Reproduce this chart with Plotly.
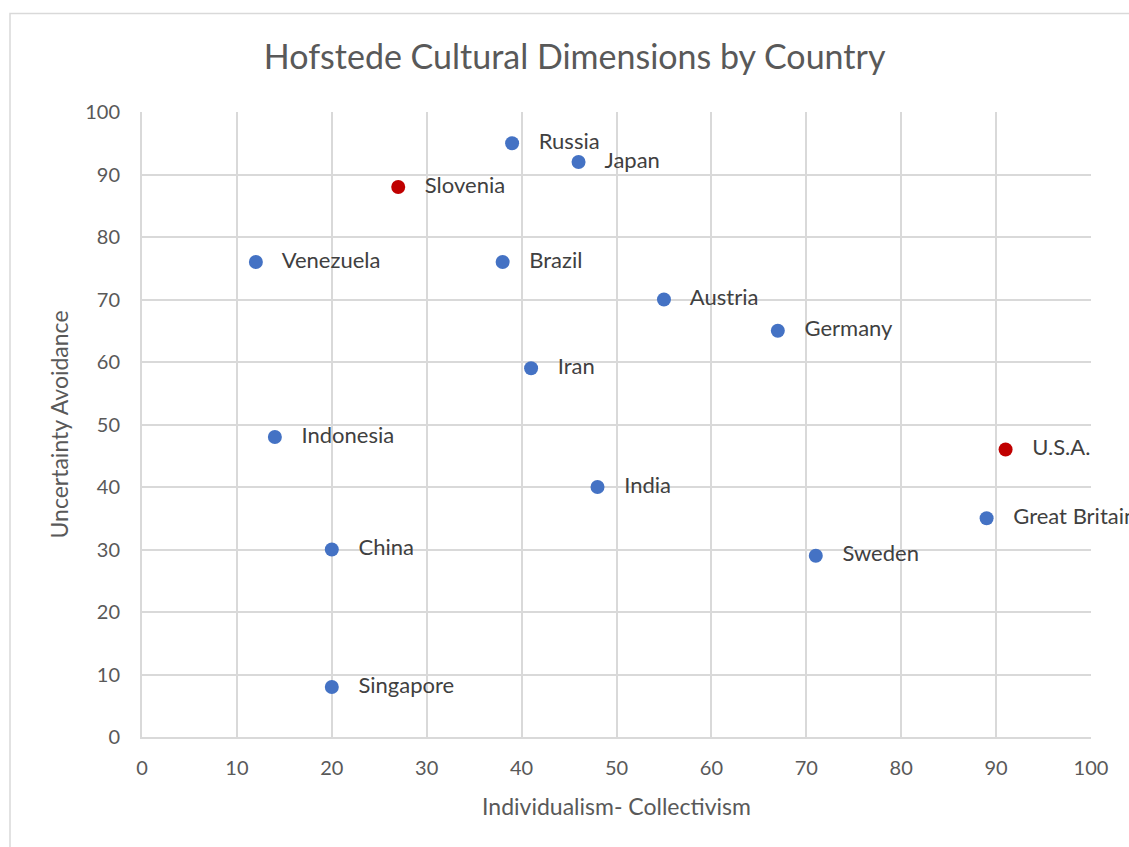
import plotly.graph_objects as go

countries = ["Russia", "Japan", "Slovenia", "Venezuela", "Brazil", "Austria", "Germany",
             "Iran", "Indonesia", "U.S.A.", "India", "Great Britain", "China", "Sweden", "Singapore"]
individualism = [39, 46, 27, 12, 38, 55, 67, 41, 14, 91, 48, 89, 20, 71, 20]
uncertainty = [95, 92, 88, 76, 76, 70, 65, 59, 48, 46, 40, 35, 30, 29, 8]
highlight = ["Slovenia", "U.S.A."]

colors = ["#C00000" if c in highlight else "#4472C4" for c in countries]
labels = ["   " + c for c in countries]

fig = go.Figure()
fig.add_trace(go.Scatter(
    x=individualism, y=uncertainty, mode="markers+text",
    text=labels, textposition="middle right",
    textfont=dict(family="Lato", size=22, color="#404040"),
    marker=dict(size=14, color=colors),
    cliponaxis=False, showlegend=False,
))

grid = "#d9d9d9"
fig.update_layout(
    width=1129, height=847,
    margin=dict(l=142, r=38, t=112, b=110),
    paper_bgcolor="white", plot_bgcolor="white",
    font=dict(family="Lato", color="#595959"),
    title=dict(text="Hofstede Cultural Dimensions by Country",
               x=0.509, xanchor="center", y=0.932, yanchor="middle",
               font=dict(size=34, color="#595959", family="Lato")),
    xaxis=dict(range=[0, 100], dtick=10, showgrid=True, gridcolor=grid, gridwidth=2,
               showline=True, linecolor=grid, linewidth=2, zeroline=False,
               ticks="", tickfont=dict(size=20, color="#595959"), ticklabelstandoff=12,
               title=dict(text="Individualism- Collectivism", font=dict(size=23, color="#595959"), standoff=21)),
    yaxis=dict(range=[0, 100], dtick=10, showgrid=True, gridcolor=grid, gridwidth=2,
               showline=True, linecolor=grid, linewidth=2, zeroline=False,
               ticks="", tickfont=dict(size=20, color="#595959"), ticklabelstandoff=16,
               title=dict(text="Uncertainty Avoidance", font=dict(size=23, color="#595959"), standoff=10)),
)
fig.add_shape(type="rect", xref="paper", yref="paper",
              x0=-0.1391, x1=1.06, y0=-0.2, y1=1.1576,
              line=dict(color="#d9d9d9", width=1.5), fillcolor="rgba(0,0,0,0)", layer="below")

fig.write_html("out.html")
